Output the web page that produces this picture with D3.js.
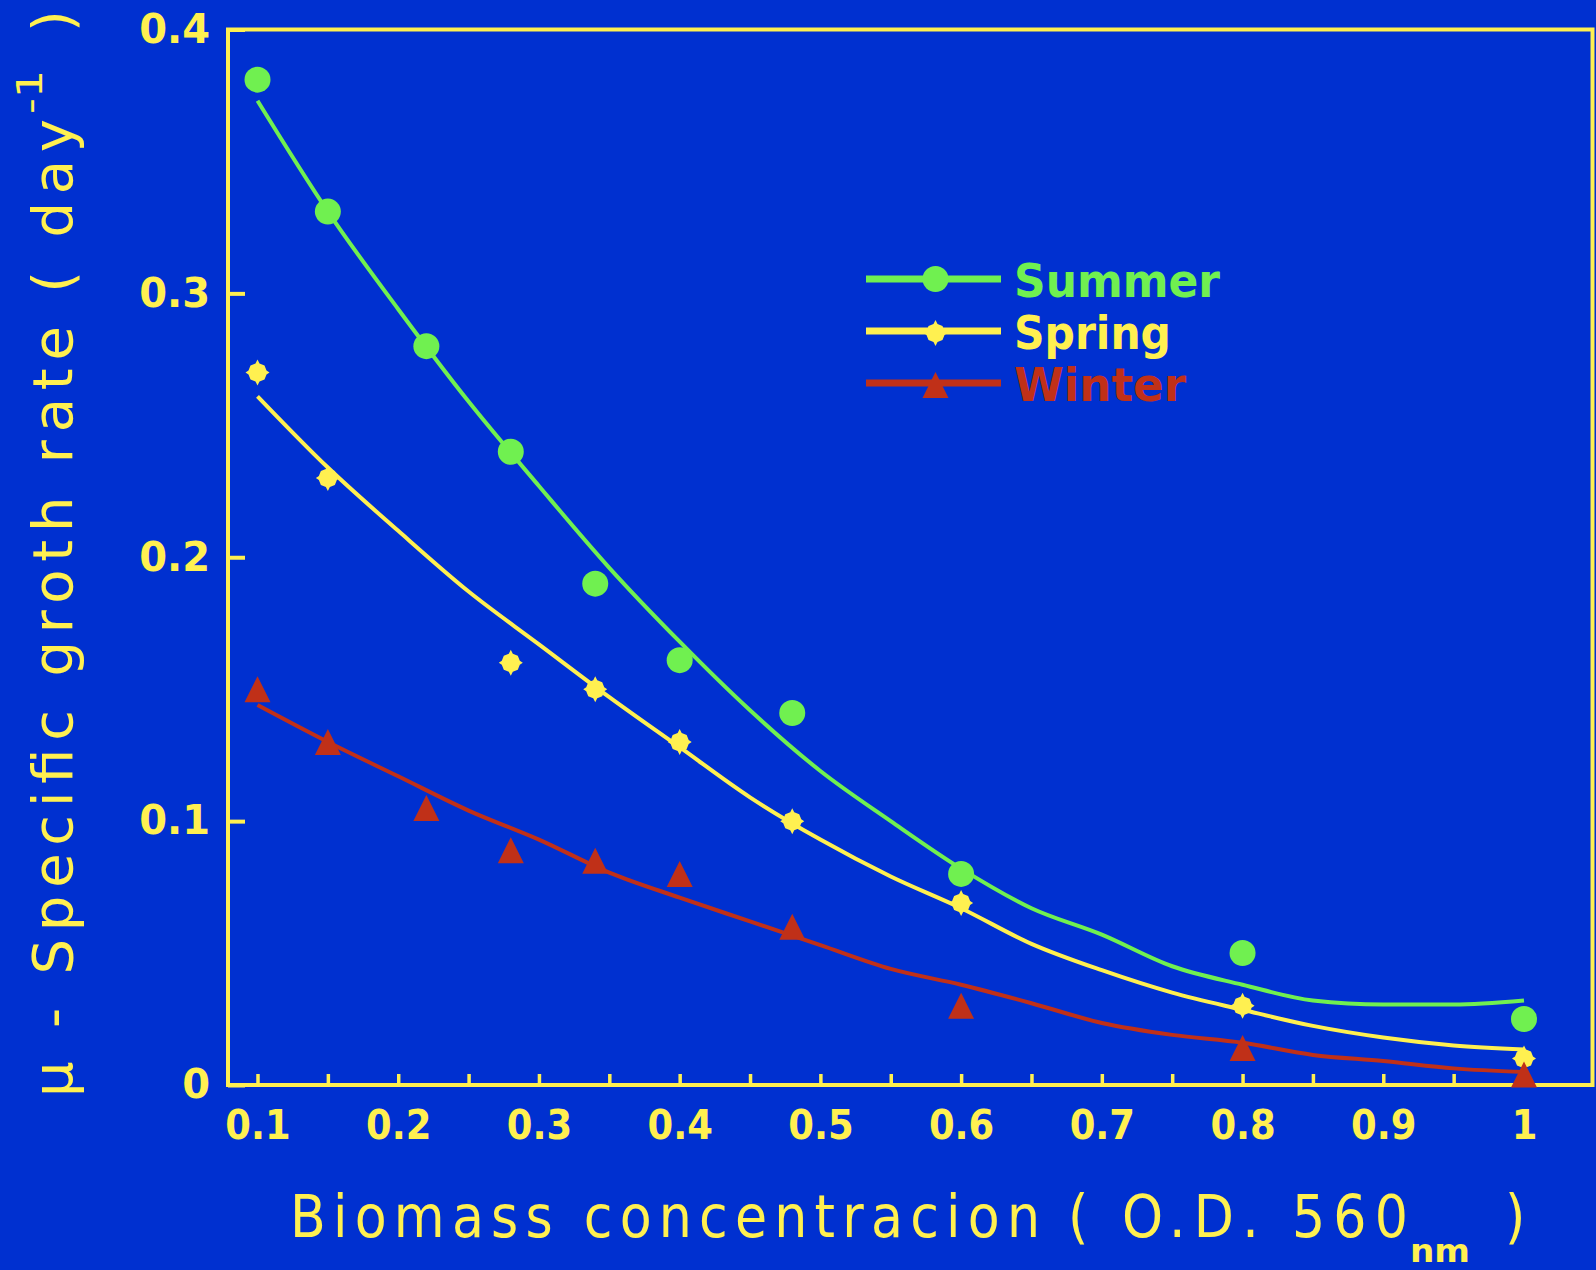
<!DOCTYPE html>
<html>
<head>
<meta charset="utf-8">
<script src="https://cdn.jsdelivr.net/npm/d3@7"></script>
<style>
  html, body { margin: 0; padding: 0; background: #0030d0; }
  svg { display: block; }
</style>
</head>
<body>
<div class="chart"></div>
<script>
var width = 1596,
    height = 1270;

// fitted curves, every 0.05
var fitX      = [0.1, 0.15, 0.2, 0.25, 0.3, 0.35, 0.4, 0.45, 0.5, 0.55, 0.6, 0.65, 0.7, 0.75, 0.8, 0.85, 0.9, 0.95, 1.0];
var summerFit = [0.373, 0.331, 0.294, 0.259, 0.227, 0.196, 0.168, 0.142, 0.119, 0.100, 0.082, 0.067, 0.057, 0.045, 0.038, 0.032, 0.0305, 0.0305, 0.032];
var springFit = [0.261, 0.234, 0.210, 0.187, 0.167, 0.147, 0.128, 0.109, 0.093, 0.079, 0.067, 0.0535, 0.0435, 0.035, 0.0285, 0.0224, 0.018, 0.015, 0.0135];
var winterFit = [0.144, 0.130, 0.117, 0.104, 0.093, 0.0805, 0.071, 0.062, 0.053, 0.044, 0.038, 0.031, 0.0235, 0.019, 0.016, 0.0114, 0.0091, 0.0063, 0.0049];

// measured points
var summerX = [0.1, 0.15, 0.22, 0.28, 0.34, 0.4, 0.48, 0.6, 0.8, 1.0];
var summerY = [0.381, 0.331, 0.280, 0.240, 0.190, 0.161, 0.141, 0.080, 0.050, 0.025];
var springX = [0.1, 0.15, 0.28, 0.34, 0.4, 0.48, 0.6, 0.8, 1.0];
var springY = [0.270, 0.230, 0.160, 0.150, 0.130, 0.100, 0.069, 0.030, 0.010];
var winterX = [0.1, 0.15, 0.22, 0.28, 0.34, 0.4, 0.48, 0.6, 0.8, 1.0];
var winterY = [0.150, 0.130, 0.105, 0.089, 0.085, 0.080, 0.060, 0.030, 0.014, 0.004];

var xMinorTicks = [0.1, 0.15, 0.2, 0.25, 0.3, 0.35, 0.4, 0.45, 0.5, 0.55, 0.6, 0.65, 0.7, 0.75, 0.8, 0.85, 0.9, 0.95, 1.0];
var xTicks = [0.1, 0.2, 0.3, 0.4, 0.5, 0.6, 0.7, 0.8, 0.9, 1.0];
var xTickLabels = ["0.1", "0.2", "0.3", "0.4", "0.5", "0.6", "0.7", "0.8", "0.9", "1"];
var yTicks = [0, 0.1, 0.2, 0.3, 0.4];
var yTickLabels = ["0", "0.1", "0.2", "0.3", "0.4"];

var seriesNames = ["Summer", "Spring", "Winter"];

var yellow = "#fff050",
    green = "#70f050",
    red = "#c03018";

// plot frame
var frameLeft = 228, frameRight = 1592.5, frameTop = 29.5, frameBottom = 1085;

var x = d3.scaleLinear().domain([0.1, 1]).range([257.5, 1524]);
var y = d3.scaleLinear().domain([0, 0.4]).range([frameBottom, frameTop]);

var svg = d3.select(".chart").append("svg")
    .attr("width", width)
    .attr("height", height);

svg.append("rect")
    .attr("width", width)
    .attr("height", height)
    .attr("fill", "#0030d0");

// minor x ticks
var xTickAxis = svg.append("g")
    .attr("transform", "translate(0," + frameBottom + ")")
    .call(d3.axisBottom(x).tickValues(xMinorTicks).tickSize(-11).tickFormat(""));
xTickAxis.select(".domain").remove();
xTickAxis.selectAll("line").attr("stroke", yellow).attr("stroke-width", 3.5);

// x labels
var xLabelAxis = svg.append("g")
    .attr("transform", "translate(0," + frameBottom + ")")
    .call(d3.axisBottom(x).tickValues(xTicks).tickSize(0).tickPadding(25)
        .tickFormat(function(d, i) { return xTickLabels[i]; }));
xLabelAxis.select(".domain").remove();
xLabelAxis.selectAll("text")
    .attr("fill", yellow)
    .style("font-family", "'DejaVu Sans Condensed', 'DejaVu Sans', sans-serif")
    .style("font-weight", "bold")
    .style("font-size", "41px");

// y axis
var yAxis = svg.append("g")
    .attr("transform", "translate(" + frameLeft + ",0)")
    .call(d3.axisLeft(y).tickValues(yTicks).tickSize(-17).tickPadding(18)
        .tickFormat(function(d, i) { return yTickLabels[i]; }));
yAxis.select(".domain").remove();
yAxis.selectAll("line").attr("stroke", yellow).attr("stroke-width", 4);
yAxis.selectAll("text")
    .attr("fill", yellow)
    .style("font-family", "'DejaVu Sans', sans-serif")
    .style("font-weight", "bold")
    .style("font-size", "40px");

// frame
svg.append("rect")
    .attr("x", frameLeft)
    .attr("y", frameTop)
    .attr("width", frameRight - frameLeft)
    .attr("height", frameBottom - frameTop)
    .attr("fill", "none")
    .attr("stroke", yellow)
    .attr("stroke-width", 4);

// markers
var starPath = "M0,-13L2,-9L7,-7L9,-2L12,0L9,2L7,7L2,9L0,13L-2,9L-7,7L-9,2L-12,0L-9,-2L-7,-7L-2,-9Z";
var triPath = "M0,-13L13,13L-13,13Z";

function drawCurve(xs, ys, color) {
    var line = d3.line()
        .x(function(d, i) { return x(xs[i]); })
        .y(function(d) { return y(d); })
        .curve(d3.curveMonotoneX);
    svg.append("path")
        .datum(ys)
        .attr("d", line)
        .attr("fill", "none")
        .attr("stroke", color)
        .attr("stroke-width", 4)
        .attr("stroke-linejoin", "round");
}

function drawMarkers(xs, ys, color, kind) {
    var g = svg.append("g");
    var m = g.selectAll(".m").data(ys).enter();
    if (kind == "circle") {
        m.append("circle")
            .attr("cx", function(d, i) { return x(xs[i]); })
            .attr("cy", function(d) { return y(d); })
            .attr("r", 13)
            .attr("fill", color);
    } else {
        m.append("path")
            .attr("d", kind == "star" ? starPath : triPath)
            .attr("transform", function(d, i) { return "translate(" + x(xs[i]) + "," + y(d) + ")"; })
            .attr("fill", color);
    }
}

drawCurve(fitX, summerFit, green);
drawCurve(fitX, springFit, yellow);
drawCurve(fitX, winterFit, red);
drawMarkers(summerX, summerY, green, "circle");
drawMarkers(springX, springY, yellow, "star");
drawMarkers(winterX, winterY, red, "tri");

// legend
var legendColors = [green, yellow, red];
var legendKinds = ["circle", "star", "tri"];
var legendWidths = [206, 157, 172];
var legend = svg.append("g");
seriesNames.forEach(function(name, i) {
    var ly = 279 + i * 52;
    legend.append("line")
        .attr("x1", 866).attr("x2", 1001)
        .attr("y1", ly).attr("y2", ly)
        .attr("stroke", legendColors[i])
        .attr("stroke-width", 7);
    if (legendKinds[i] == "circle") {
        legend.append("circle").attr("cx", 935.5).attr("cy", ly).attr("r", 13).attr("fill", legendColors[i]);
    } else {
        legend.append("path")
            .attr("d", legendKinds[i] == "star" ? starPath : triPath)
            .attr("transform", "translate(935.5," + (ly + 2) + ")")
            .attr("fill", legendColors[i]);
    }
    legend.append("text")
        .attr("x", 1014)
        .attr("y", ly + 18)
        .attr("fill", legendColors[i])
        .attr("textLength", legendWidths[i])
        .attr("lengthAdjust", "spacingAndGlyphs")
        .style("font-family", "'DejaVu Sans', sans-serif")
        .style("font-weight", "bold")
        .style("font-size", "46px")
        .text(name);
});

// x title
var xt = svg.append("g")
    .attr("fill", yellow)
    .style("font-family", "'DejaVu Sans Condensed', 'DejaVu Sans', sans-serif")
    .style("font-size", "58px");
xt.append("text").attr("x", 290).attr("y", 1237)
    .attr("textLength", 750).attr("lengthAdjust", "spacing")
    .text("Biomass concentracion");
xt.append("text").attr("x", 1068).attr("y", 1237).text("(");
xt.append("text").attr("x", 1122).attr("y", 1237)
    .attr("textLength", 286).attr("lengthAdjust", "spacing")
    .text("O.D. 560");
xt.append("text").attr("x", 1410).attr("y", 1262)
    .attr("textLength", 60).attr("lengthAdjust", "spacingAndGlyphs")
    .style("font-size", "32px").style("font-weight", "bold")
    .text("nm");
xt.append("text").attr("x", 1505).attr("y", 1237).text(")");

// y title
var yt = svg.append("g")
    .attr("fill", yellow)
    .style("font-family", "'DejaVu Sans', sans-serif")
    .style("font-size", "56px");
yt.append("text")
    .attr("transform", "translate(72,1097) rotate(-90)")
    .attr("textLength", 978).attr("lengthAdjust", "spacing")
    .text("\u03bc - Specific groth rate ( day");
yt.append("text")
    .attr("transform", "translate(42,114) rotate(-90)")
    .attr("textLength", 44).attr("lengthAdjust", "spacingAndGlyphs")
    .style("font-size", "36px")
    .text("-1");
yt.append("text")
    .attr("transform", "translate(72,32) rotate(-90)")
    .text(")");
</script>
</body>
</html>
